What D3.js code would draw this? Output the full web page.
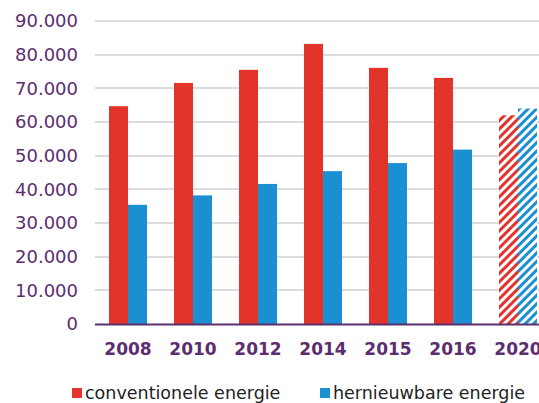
<!DOCTYPE html>
<meta charset="utf-8">
<style>
body { margin: 0; background: #fff; }
svg text { font-family: "DejaVu Sans", Verdana, sans-serif; }
.grid line { stroke: #dcdcdc; stroke-width: 1.5; shape-rendering: crispEdges; }
</style>
<body>
<svg width="539" height="403"></svg>
<script src="https://cdn.jsdelivr.net/npm/d3@7"></script>
<script>

var years = ["2008", "2010", "2012", "2014", "2015", "2016", "2020"];
var conventioneel = [64700, 71600, 75500, 83200, 76100, 73100, 62000];
var hernieuwbaar = [35400, 38200, 41600, 45400, 47800, 51800, 64000];
var prognose = ["2020"];   // hatched bars
var yTicks = [0, 10000, 20000, 30000, 40000, 50000, 60000, 70000, 80000, 90000];
var seriesNames = ["conventionele energie", "hernieuwbare energie"];

var red = "#e2342a", blue = "#1a8fd2", purple = "#5c2d6f";

var svg = d3.select("svg");

var nl = d3.formatLocale({decimal: ",", thousands: ".", grouping: [3], currency: ["€", ""]});
var fmt = nl.format(",");

var y = d3.scaleLinear()
	.domain([0, 90000])
	.range([324, 21]);

var x = d3.scaleBand()
	.domain(years)
	.range([95.5, 550.5])
	.paddingInner(0.4154)
	.paddingOuter(0.2077);

var x1 = d3.scaleBand()
	.domain([0, 1])
	.range([0, x.bandwidth()]);

// hatch patterns for the 2020 forecast
var defs = svg.append("defs");
[["hatch0", red], ["hatch1", blue]].forEach(function(p){
	var pat = defs.append("pattern")
		.attr("id", p[0])
		.attr("patternUnits", "userSpaceOnUse")
		.attr("width", 6)
		.attr("height", 6)
		.attr("patternTransform", "rotate(45)");
	pat.append("rect").attr("width", 6).attr("height", 6).attr("fill", "#fff");
	pat.append("rect").attr("width", 3).attr("height", 6).attr("fill", p[1]);
});

// gridlines
svg.append("g")
	.attr("class", "grid")
	.selectAll("line")
	.data(yTicks.slice(1))
	.enter().append("line")
	.attr("x1", 95)
	.attr("x2", 539)
	.attr("y1", function(d){ return Math.round(y(d)); })
	.attr("y2", function(d){ return Math.round(y(d)); });

// y axis labels
var yAxis = d3.axisLeft(y)
	.tickValues(yTicks)
	.tickSize(0)
	.tickPadding(17)
	.tickFormat(fmt);

var ya = svg.append("g")
	.attr("transform", "translate(95,0)")
	.call(yAxis);
ya.select(".domain").remove();
ya.selectAll("text")
	.style("font-family", "'DejaVu Sans', Verdana, sans-serif")
	.style("font-size", "18px")
	.attr("fill", purple);

// bars
var rows = years.map(function(yr, i){
	return {year: yr, vals: [conventioneel[i], hernieuwbaar[i]]};
});

var groups = svg.selectAll(".yr")
	.data(rows)
	.enter().append("g")
	.attr("class", "yr")
	.attr("transform", function(d){ return "translate(" + x(d.year) + ",0)"; });

groups.selectAll("rect")
	.data(function(d){
		return d.vals.map(function(v, k){ return {k: k, v: v, hatch: prognose.indexOf(d.year) >= 0}; });
	})
	.enter().append("rect")
	.attr("x", function(d){ return x1(d.k); })
	.attr("width", x1.bandwidth())
	.attr("y", function(d){ return y(d.v); })
	.attr("height", function(d){ return y(0) - y(d.v); })
	.attr("fill", function(d){
		if (d.hatch) return "url(#hatch" + d.k + ")";
		return d.k == 0 ? red : blue;
	});

// x axis line
svg.append("line")
	.attr("x1", 95)
	.attr("x2", 539)
	.attr("y1", y(0) + 0.5)
	.attr("y2", y(0) + 0.5)
	.attr("stroke", purple)
	.attr("stroke-width", 2);

// x labels
svg.selectAll(".xlab")
	.data(years)
	.enter().append("text")
	.attr("class", "xlab")
	.attr("x", function(d){ return x(d) + x.bandwidth() / 2; })
	.attr("y", 355)
	.attr("text-anchor", "middle")
	.style("font-size", "17px")
	.style("font-weight", "bold")
	.attr("fill", purple)
	.text(function(d){ return d; });

// legend
var legendX = [72, 320];
var legend = svg.selectAll(".leg")
	.data(seriesNames)
	.enter().append("g")
	.attr("class", "leg")
	.attr("transform", function(d, i){ return "translate(" + legendX[i] + ",388)"; });

legend.append("rect")
	.attr("width", 10)
	.attr("height", 10)
	.attr("fill", function(d, i){ return i == 0 ? red : blue; });

legend.append("text")
	.attr("x", 13)
	.attr("y", 11)
	.style("font-size", "17.5px")
	.attr("fill", "#222")
	.text(function(d){ return d; });

</script>
</body>
</html>
